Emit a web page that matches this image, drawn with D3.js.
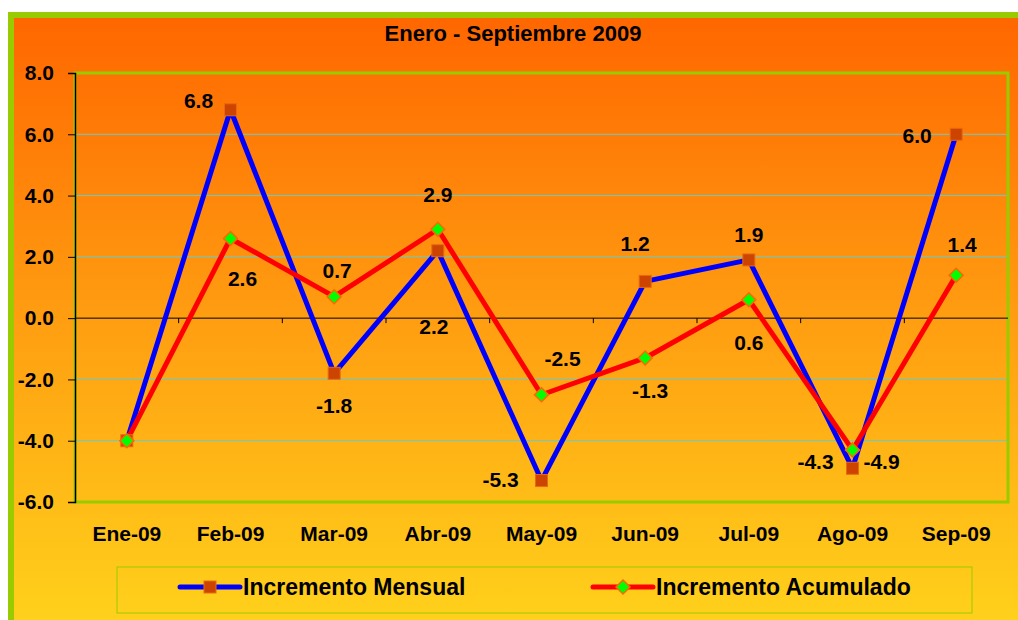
<!DOCTYPE html>
<meta charset="utf-8">
<style>
  body { margin: 0; background: #fff; }
  svg text { font-family: "Liberation Sans", Arial, sans-serif; font-weight: bold; fill: #000; }
</style>
<div id="chart"></div>
<script src="https://d3js.org/d3.v7.min.js"></script>
<script>
    var categories = ["Ene-09", "Feb-09", "Mar-09", "Abr-09", "May-09", "Jun-09", "Jul-09", "Ago-09", "Sep-09"];
    var mensual = [-4.0, 6.8, -1.8, 2.2, -5.3, 1.2, 1.9, -4.9, 6.0];
    var acumulado = [-4.0, 2.6, 0.7, 2.9, -2.5, -1.3, 0.6, -4.3, 1.4];
    var yTicks = [-6, -4, -2, 0, 2, 4, 6, 8];
    // label nudges (px, label centre relative to its point); null = no label
    var mensualLabelNudge = [null, [-32, -10], [0, 32], [-4, 75], [-41, -2], [-10, -38], [0, -26], [29, -7], [-39, 1]];
    var acumuladoLabelNudge = [null, [12, 40], [3, -27], [0, -35], [21, -37], [5, 32], [0, 42], [-37, 11], [6, -31]];

    var W = 1018, H = 620;
    var plot = {left: 75, right: 1008, top: 73, bottom: 502};
    var fmt = function(v) { return v.toFixed(1); };

    var svg = d3.select("#chart").append("svg")
        .attr("width", W)
        .attr("height", H);

    // background gradient
    var defs = svg.append("defs");
    var grad = defs.append("linearGradient")
        .attr("id", "bg")
        .attr("x1", 0).attr("y1", 0).attr("x2", 0).attr("y2", 1);
    grad.append("stop").attr("offset", "0%").attr("stop-color", "#FF6600");
    grad.append("stop").attr("offset", "45%").attr("stop-color", "#FF9A10");
    grad.append("stop").attr("offset", "100%").attr("stop-color", "#FFD51C");

    svg.append("rect")
        .attr("x", 11).attr("y", 15)
        .attr("width", W + 10).attr("height", H + 10)
        .attr("fill", "url(#bg)")
        .attr("stroke", "#99CC00")
        .attr("stroke-width", 6);

    svg.append("text")
        .attr("x", 513).attr("y", 41)
        .attr("text-anchor", "middle")
        .style("font-size", "22px")
        .text("Enero - Septiembre 2009");

    var x = d3.scaleBand()
        .domain(categories)
        .range([plot.left, plot.right]);

    var y = d3.scaleLinear()
        .domain([-6, 8])
        .range([plot.bottom, plot.top]);

    var cx = function(i) { return x(categories[i]) + x.bandwidth() / 2; };

    // gridlines
    svg.append("g")
        .selectAll("line")
        .data(yTicks.filter(function(d) { return d !== 0 && d !== -6 && d !== 8; }))
        .enter().append("line")
        .attr("x1", plot.left).attr("x2", plot.right)
        .attr("y1", function(d) { return y(d); })
        .attr("y2", function(d) { return y(d); })
        .attr("stroke", "#66CCCC")
        .attr("stroke-width", 1);

    // plot area border
    svg.append("rect")
        .attr("x", plot.left).attr("y", plot.top)
        .attr("width", plot.right - plot.left)
        .attr("height", plot.bottom - plot.top)
        .attr("fill", "none")
        .attr("stroke", "#99CC00")
        .attr("stroke-width", 3);

    // y axis
    var yAxis = svg.append("g")
        .attr("transform", "translate(" + plot.left + ",0)")
        .call(d3.axisLeft(y).tickValues(yTicks).tickFormat(fmt).tickSize(7).tickPadding(14));
    yAxis.select(".domain").attr("stroke", "#000").attr("stroke-width", 1.5);
    yAxis.selectAll(".tick line").attr("stroke", "#000");
    yAxis.selectAll("text")
        .style("font-size", "21px")
        .attr("fill", "#000");
    yAxis.attr("font-family", null).attr("font-size", null);

    // x axis line at zero with ticks at category boundaries
    var xAxis = svg.append("g")
        .attr("transform", "translate(0," + y(0) + ")");
    xAxis.append("line")
        .attr("x1", plot.left).attr("x2", plot.right)
        .attr("stroke", "#000").attr("stroke-width", 1);
    xAxis.selectAll(".bt")
        .data(categories.slice(1))
        .enter().append("line")
        .attr("x1", function(d) { return x(d); })
        .attr("x2", function(d) { return x(d); })
        .attr("y1", 0).attr("y2", 5)
        .attr("stroke", "#000");

    // category labels (low position)
    svg.append("g")
        .selectAll("text")
        .data(categories)
        .enter().append("text")
        .attr("x", function(d) { return x(d) + x.bandwidth() / 2; })
        .attr("y", 541)
        .attr("text-anchor", "middle")
        .style("font-size", "21px")
        .text(function(d) { return d; });

    var series = [
        {name: "Incremento Mensual", values: mensual, nudge: mensualLabelNudge, color: "#0000FF", marker: "square"},
        {name: "Incremento Acumulado", values: acumulado, nudge: acumuladoLabelNudge, color: "#FF0000", marker: "diamond"}
    ];

    var line = d3.line()
        .x(function(d, i) { return cx(i); })
        .y(function(d) { return y(d); });

    function drawMarker(g, type, px, py) {
        if (type === "square") {
            g.append("rect")
                .attr("x", px - 6).attr("y", py - 6)
                .attr("width", 12).attr("height", 12)
                .attr("fill", "#CC4400")
                .attr("stroke", "#E86A10")
                .attr("stroke-width", 1);
        } else {
            g.append("path")
                .attr("d", "M" + px + "," + (py - 7) + "L" + (px + 7) + "," + py + "L" + px + "," + (py + 7) + "L" + (px - 7) + "," + py + "Z")
                .attr("fill", "#00FF00")
                .attr("stroke", "#FF6600")
                .attr("stroke-width", 1.5);
        }
    }

    series.forEach(function(s) {
        svg.append("path")
            .datum(s.values)
            .attr("d", line)
            .attr("fill", "none")
            .attr("stroke", s.color)
            .attr("stroke-width", 5)
            .attr("stroke-linejoin", "round");
    });

    series.forEach(function(s) {
        var g = svg.append("g");
        s.values.forEach(function(v, i) {
            drawMarker(g, s.marker, cx(i), y(v));
        });
    });

    // value labels
    series.forEach(function(s) {
        s.values.forEach(function(v, i) {
            var n = s.nudge[i];
            if (!n) return;
            svg.append("text")
                .attr("x", cx(i) + n[0])
                .attr("y", y(v) + n[1] + 8)
                .attr("text-anchor", "middle")
                .style("font-size", "21px")
                .text(fmt(v));
        });
    });

    // legend
    var legend = svg.append("g");
    legend.append("rect")
        .attr("x", 117).attr("y", 567)
        .attr("width", 855).attr("height", 46)
        .attr("fill", "none")
        .attr("stroke", "#99CC00")
        .attr("stroke-width", 1);
    var legendX = [180, 593];
    series.forEach(function(s, i) {
        var lx = legendX[i], ly = 587;
        legend.append("line")
            .attr("x1", lx).attr("x2", lx + 60)
            .attr("y1", ly).attr("y2", ly)
            .attr("stroke", s.color)
            .attr("stroke-width", 5)
            .attr("stroke-linecap", "round");
        drawMarker(legend, s.marker, lx + 30, ly);
        legend.append("text")
            .attr("x", lx + 63).attr("y", ly + 8)
            .style("font-size", "23px")
            .text(s.name);
    });
</script>
